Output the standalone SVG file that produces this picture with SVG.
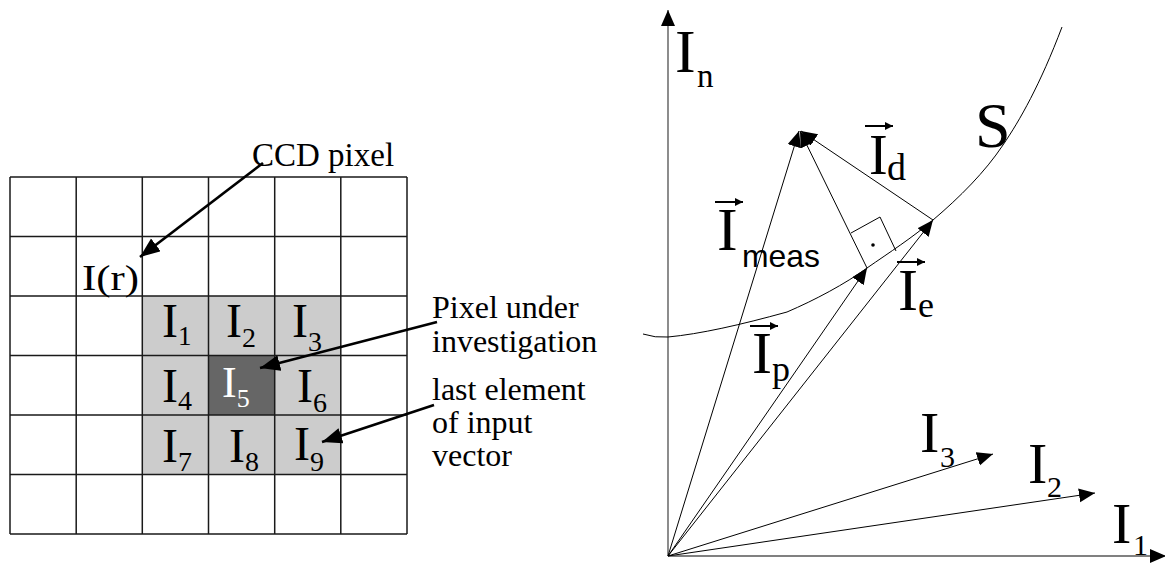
<svg xmlns="http://www.w3.org/2000/svg" width="1165" height="564" viewBox="0 0 1165 564">
<defs>
<style>
.serif{font-family:"Liberation Serif","Times New Roman",serif;fill:#000}
.sans{font-family:"Liberation Sans",Arial,sans-serif;fill:#000}
.grid{stroke:#1a1a1a;stroke-width:1.5;fill:none}
.thick{stroke:#000;stroke-width:2.6;fill:none}
.thin{stroke:#000;stroke-width:1;fill:none}
.axis{stroke:#808080;stroke-width:1.8;fill:none}
.vec{stroke:#000;stroke-width:2;fill:none}
</style>
<marker id="big" markerUnits="userSpaceOnUse" markerWidth="22" markerHeight="18" refX="20" refY="8" orient="auto">
<path d="M0,0 L20,8 L0,16 z" fill="#000"/>
</marker>
<marker id="ah" markerUnits="userSpaceOnUse" markerWidth="18" markerHeight="16" refX="16" refY="7" orient="auto">
<path d="M0,0 L16,7 L0,14 z" fill="#000"/>
</marker>
<marker id="va" markerUnits="userSpaceOnUse" markerWidth="10" markerHeight="10" refX="8" refY="4" orient="auto">
<path d="M0,0 L8,4 L0,8 z" fill="#000"/>
</marker>
</defs>
<rect width="1165" height="564" fill="#fff"/>

<!-- Left: CCD grid -->
<g id="grid">
<rect x="142.3" y="296" width="198.5" height="178.5" fill="#cccccc"/>
<rect x="208.5" y="355.5" width="66.2" height="59.5" fill="#666666"/>
<path class="grid" d="M10,177 V534 M76.2,177 V534 M142.3,177 V534 M208.5,177 V534 M274.7,177 V534 M340.8,177 V534 M407,177 V534 M10,177 H407 M10,236.5 H407 M10,296 H407 M10,355.5 H407 M10,415 H407 M10,474.5 H407 M10,534 H407"/>
</g>
<g id="cell-labels">
<text class="serif" x="82" y="290" font-size="36" textLength="57" lengthAdjust="spacingAndGlyphs">I(r)</text>
<text class="serif" x="162" y="337" font-size="48">I<tspan font-size="27" dy="8">1</tspan></text>
<text class="serif" x="226" y="337" font-size="48">I<tspan font-size="28" dy="10">2</tspan></text>
<text class="serif" x="292" y="337" font-size="48">I<tspan font-size="28" dy="14">3</tspan></text>
<text class="serif" x="162" y="402" font-size="48">I<tspan font-size="28" dy="8">4</tspan></text>
<text class="serif" x="222" y="397" font-size="44" style="fill:#fff">I<tspan font-size="26" dy="10">5</tspan></text>
<text class="serif" x="297" y="402" font-size="48">I<tspan font-size="28" dy="10">6</tspan></text>
<text class="serif" x="162" y="462" font-size="48">I<tspan font-size="28" dy="9">7</tspan></text>
<text class="serif" x="229" y="462" font-size="48">I<tspan font-size="28" dy="9">8</tspan></text>
<text class="serif" x="294" y="460" font-size="48">I<tspan font-size="28" dy="11">9</tspan></text>
</g>
<g id="left-notes">
<text class="serif" x="252" y="166" font-size="33">CCD pixel</text>
<text class="serif" x="432" y="318" font-size="32">Pixel under</text>
<text class="serif" x="432" y="352" font-size="32">investigation</text>
<text class="serif" x="432" y="400" font-size="32">last element</text>
<text class="serif" x="432" y="433" font-size="32">of input</text>
<text class="serif" x="432" y="466" font-size="32">vector</text>
</g>
<g id="left-connectors">
<line class="thick" x1="263" y1="163" x2="140" y2="257" marker-end="url(#big)"/>
<line class="thick" x1="437" y1="322" x2="260" y2="368" marker-end="url(#big)"/>
<line class="thick" x1="434" y1="405" x2="322" y2="442" marker-end="url(#big)"/>
</g>

<!-- Right: vector space -->
<g id="axes">
<line class="axis" x1="668" y1="556" x2="668" y2="10" marker-end="url(#ah)"/>
<line class="axis" x1="668" y1="556" x2="1166" y2="556" marker-end="url(#ah)"/>
</g>
<g id="surface-S">
<path class="thin" d="M643,334 Q655,338 668,337 C700,334 740,325 787,312 C815,300 845,284 867,268 C890,252 912,238 933,220 C960,197 985,172 1003,145 C1020,120 1040,85 1062,27"/>
<path class="thin" d="M851,233 L880,217 L896,251"/>
<circle cx="873" cy="245" r="1.8" fill="#000"/>
</g>
<g id="vectors">
<line class="thin" x1="668" y1="556" x2="799" y2="131" marker-end="url(#ah)"/>
<line class="thin" x1="867" y1="268" x2="800" y2="131" marker-end="url(#ah)"/>
<line class="thin" x1="933" y1="220" x2="801" y2="131" marker-end="url(#ah)"/>
<line class="thin" x1="668" y1="556" x2="867" y2="268" marker-end="url(#ah)"/>
<line class="thin" x1="668" y1="556" x2="933" y2="220" marker-end="url(#ah)"/>
<line class="thin" x1="668" y1="556" x2="993" y2="454" marker-end="url(#ah)"/>
<line class="thin" x1="668" y1="556" x2="1095" y2="493" marker-end="url(#ah)"/>
</g>
<g id="vector-labels">
<text class="serif" x="675" y="72" font-size="62">I<tspan font-size="33" x="697" y="87">n</tspan></text>
<text class="serif" x="975" y="147" font-size="64">S</text>
<line class="vec" x1="865" y1="126" x2="893" y2="126" marker-end="url(#va)"/>
<text class="serif" x="869" y="174" font-size="56">I<tspan font-size="38" x="887" y="180">d</tspan></text>
<line class="vec" x1="715" y1="202" x2="743" y2="202" marker-end="url(#va)"/>
<text class="serif" x="717" y="250" font-size="62">I</text>
<text class="sans" x="742" y="267" font-size="32" textLength="78" lengthAdjust="spacingAndGlyphs">meas</text>
<line class="vec" x1="897" y1="262" x2="925" y2="262" marker-end="url(#va)"/>
<text class="serif" x="898" y="310" font-size="60">I<tspan font-size="36" x="918" y="317">e</tspan></text>
<line class="vec" x1="750" y1="326" x2="778" y2="326" marker-end="url(#va)"/>
<text class="serif" x="752" y="373" font-size="60">I<tspan font-size="36" x="772" y="381">p</tspan></text>
<text class="serif" x="920" y="452" font-size="58">I<tspan font-size="30" x="940" y="467">3</tspan></text>
<text class="serif" x="1028" y="483" font-size="58">I<tspan font-size="30" x="1047" y="497">2</tspan></text>
<text class="serif" x="1112" y="543" font-size="58">I<tspan font-size="30" x="1133" y="555">1</tspan></text>
</g>
</svg>
